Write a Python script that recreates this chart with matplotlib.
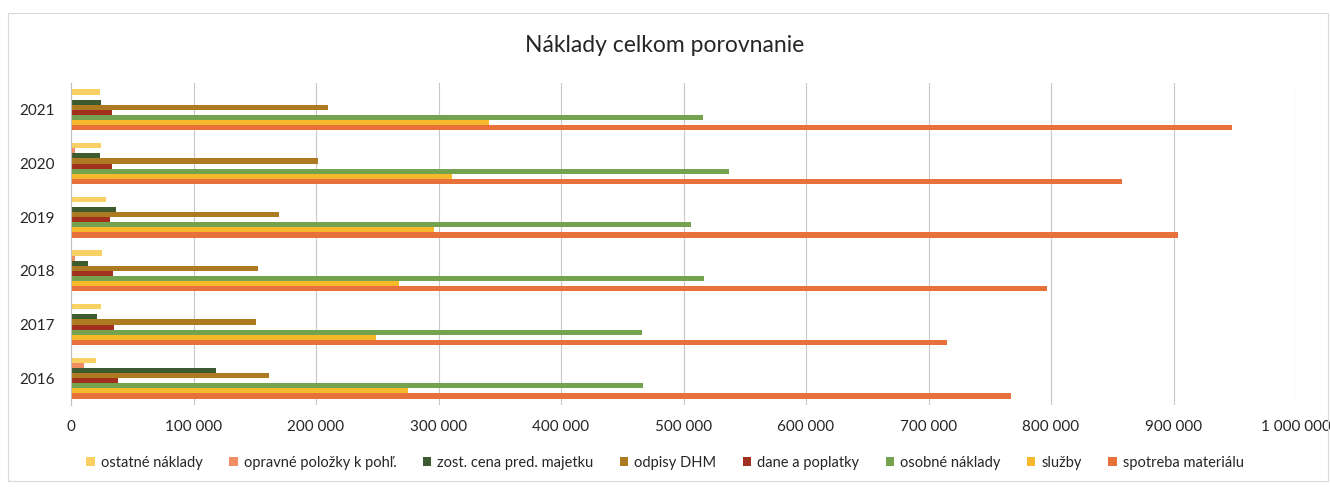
import matplotlib
matplotlib.use("Agg")
import matplotlib.pyplot as plt
from matplotlib.ticker import FuncFormatter, MultipleLocator
import numpy as np

plt.rcParams['font.family'] = ['Lato', 'DejaVu Sans']

years = ["2016", "2017", "2018", "2019", "2020", "2021"]

# series in drawing order (bottom of each group first)
series_names = ["spotreba materiálu", "služby", "osobné náklady", "dane a poplatky",
                "odpisy DHM", "zost. cena pred. majetku", "opravné položky k pohľ.",
                "ostatné náklady"]

spotreba = [767000, 715000, 797000, 904000, 858000, 948000]
sluzby = [275000, 249000, 268000, 296000, 311000, 341000]
osobne = [467000, 466000, 517000, 506000, 537000, 516000]
dane = [38500, 35000, 34000, 31500, 33500, 33500]
odpisy = [161500, 151000, 152500, 169500, 202000, 209500]
zost_cena = [118000, 21000, 14000, 36500, 24000, 24500]
opravne = [10500, 0, 3000, 0, 3500, 0]
ostatne = [20500, 24500, 25000, 28500, 24500, 24000]

values = [spotreba, sluzby, osobne, dane, odpisy, zost_cena, opravne, ostatne]
colors = ["#E8703A", "#F6B92B", "#74A24E", "#A1301F", "#AD7A22", "#3E5B30",
          "#F08D62", "#F9D063"]

fig = plt.figure(figsize=(13.3, 4.87), dpi=100)
fig.patch.set_facecolor("white")

# chart border
border = plt.Rectangle((8 / 1330, 6 / 487), 1320 / 1330, 468 / 487,
                       transform=fig.transFigure, fill=False,
                       edgecolor="#D9D9D9", linewidth=0.8)
fig.add_artist(border)

ax = fig.add_axes([71 / 1330, 1 - 405 / 487, (1296 - 71) / 1330, (405 - 83) / 487])

n = len(values)
group = 0.76
h = group / n
y = np.arange(len(years))
for j, (vals, c, name) in enumerate(zip(values, colors, series_names)):
    ax.barh(y + (j - (n - 1) / 2) * h, vals, height=h, color=c, label=name,
            edgecolor="none")

ax.set_xlim(0, 1000000)
ax.set_ylim(-0.5, len(years) - 0.5)
ax.xaxis.set_major_locator(MultipleLocator(100000))
ax.xaxis.set_major_formatter(FuncFormatter(lambda v, p: f"{int(v):,}".replace(",", " ")))
ax.set_yticks(y)
ax.set_yticklabels(years)
ax.grid(axis="x", color="#C8C8C8", linewidth=0.8)
ax.set_axisbelow(True)
for s in ["top", "right", "bottom"]:
    ax.spines[s].set_visible(False)
ax.spines["left"].set_color("#BFBFBF")
ax.tick_params(axis="both", length=0, labelsize=11, colors="#262626")
ax.tick_params(axis="y", pad=12)
ax.tick_params(axis="x", pad=11)

fig.text(0.5, 1 - 46 / 487, "Náklady celkom porovnanie", ha="center", va="center",
         fontsize=16.5, color="#262626")

handles, labels = ax.get_legend_handles_labels()
leg = fig.legend(handles[::-1], labels[::-1], loc="center", ncol=8,
                 bbox_to_anchor=(0.5, 1 - 463 / 487), frameon=False,
                 fontsize=10.5, handlelength=0.6, handleheight=0.6,
                 handletextpad=0.4, columnspacing=1.8, labelcolor="#262626")

fig.savefig("out.png", dpi=100, facecolor="white")
